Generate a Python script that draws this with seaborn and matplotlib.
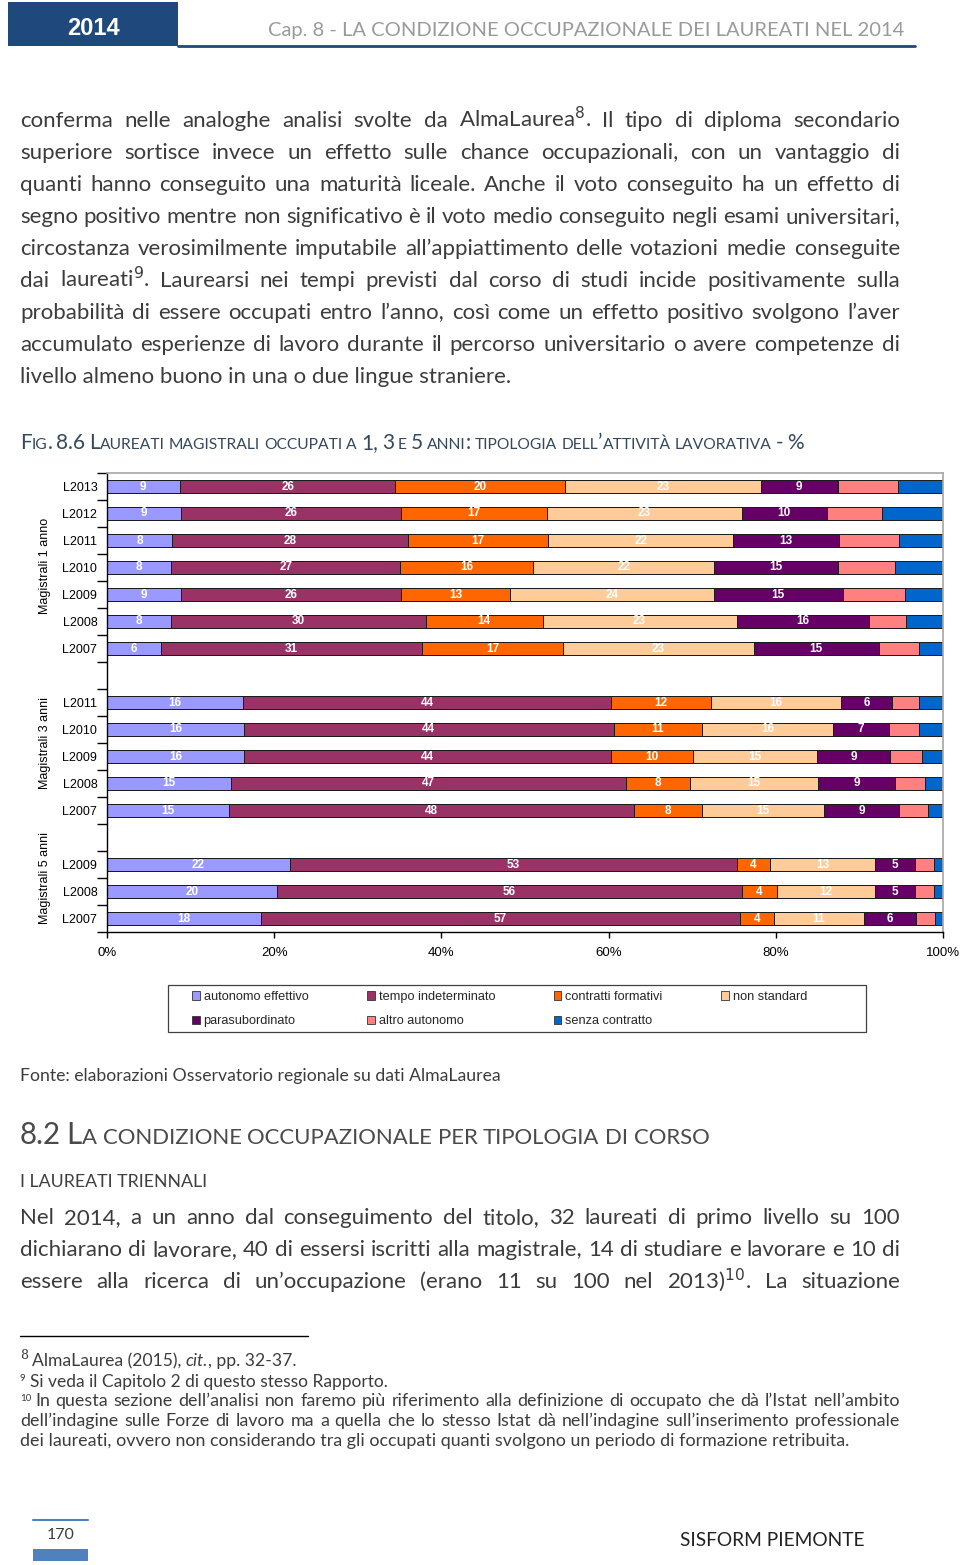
import matplotlib
matplotlib.use('Agg')
import matplotlib.pyplot as plt
from matplotlib.patches import Patch, Rectangle
from matplotlib.lines import Line2D
import seaborn as sns
import pandas as pd
import numpy as np

# Dati del grafico (percentuali)
categorie = ['autonomo effettivo', 'tempo indeterminato', 'contratti formativi',
             'non standard', 'parasubordinato', 'altro autonomo', 'senza contratto']
colori = ['#9999FF', '#993366', '#FF6600', '#FFCC99', '#660066', '#FF8080', '#0066CC']

gruppi = ['Magistrali 1 anno', 'Magistrali 3 anni', 'Magistrali 5 anni']
coorti_1_anno = ['L2013', 'L2012', 'L2011', 'L2010', 'L2009', 'L2008', 'L2007']
coorti_3_anni = ['L2011', 'L2010', 'L2009', 'L2008', 'L2007']
coorti_5_anni = ['L2009', 'L2008', 'L2007']

# valori per categoria: 7 righe a 1 anno, 5 a 3 anni, 3 a 5 anni
autonomo_effettivo = [8.7, 8.8, 7.8, 7.7, 8.8, 7.7, 6.4, 16.3, 16.4, 16.4, 14.8, 14.6, 21.9, 20.3, 18.4]
tempo_indeterminato = [25.8, 26.4, 28.2, 27.4, 26.4, 30.4, 31.3, 44.0, 44.2, 43.9, 47.3, 48.4, 53.4, 55.7, 57.3]
contratti_formativi = [20.3, 17.4, 16.8, 15.9, 13.0, 14.0, 16.8, 11.9, 10.6, 9.8, 7.6, 8.2, 4.0, 4.1, 4.1]
non_standard = [23.4, 23.3, 22.1, 21.6, 24.4, 23.2, 22.9, 15.6, 15.6, 14.8, 15.4, 14.6, 12.6, 11.8, 10.7]
parasubordinato = [9.2, 10.2, 12.6, 14.8, 15.4, 15.9, 14.9, 6.1, 6.8, 8.8, 9.2, 8.9, 4.7, 4.8, 6.3]
altro_autonomo = [7.2, 6.6, 7.2, 6.9, 7.4, 4.4, 4.8, 3.2, 3.5, 3.8, 3.6, 3.5, 2.3, 2.2, 2.2]
senza_contratto = [5.4, 7.3, 5.3, 5.7, 4.6, 4.4, 2.9, 2.9, 2.9, 2.5, 2.1, 1.8, 1.1, 1.1, 1.0]
serie = [autonomo_effettivo, tempo_indeterminato, contratti_formativi, non_standard,
         parasubordinato, altro_autonomo, senza_contratto]
n_etichettate = 5  # le ultime due categorie non hanno etichetta

# Testi della pagina
paragrafo_1 = [
    'conferma nelle analoghe analisi svolte da AlmaLaurea$^{8}$. Il tipo di diploma secondario',
    'superiore sortisce invece un effetto sulle chance occupazionali, con un vantaggio di',
    'quanti hanno conseguito una maturità liceale. Anche il voto conseguito ha un effetto di',
    'segno positivo mentre non significativo è il voto medio conseguito negli esami universitari,',
    'circostanza verosimilmente imputabile all’appiattimento delle votazioni medie conseguite',
    'dai laureati$^{9}$. Laurearsi nei tempi previsti dal corso di studi incide positivamente sulla',
    'probabilità di essere occupati entro l’anno, così come un effetto positivo svolgono l’aver',
    'accumulato esperienze di lavoro durante il percorso universitario o avere competenze di',
    'livello almeno buono in una o due lingue straniere.',
]
paragrafo_2 = [
    'Nel 2014, a un anno dal conseguimento del titolo, 32 laureati di primo livello su 100',
    'dichiarano di lavorare, 40 di essersi iscritti alla magistrale, 14 di studiare e lavorare e 10 di',
    'essere alla ricerca di un’occupazione (erano 11 su 100 nel 2013)$^{10}$. La situazione',
]
nota_10 = [
    'In questa sezione dell’analisi non faremo più riferimento alla definizione di occupato che dà l’Istat nell’ambito',
    'dell’indagine sulle Forze di lavoro ma a quella che lo stesso Istat dà nell’indagine sull’inserimento professionale',
    'dei laureati, ovvero non considerando tra gli occupati quanti svolgono un periodo di formazione retribuita.',
]

sns.set_theme(style='white')
plt.rcParams['font.family'] = ['Lato', 'DejaVu Sans']
plt.rcParams['mathtext.fontset'] = 'dejavusans'

W, H = 960, 1565
fig = plt.figure(figsize=(W / 100, H / 100), dpi=100)
fig.patch.set_facecolor('white')
renderer = fig.canvas.get_renderer()

GRIGIO = '#3c3c3c'
BLU = '#1F497D'
ARIAL = ['Liberation Sans', 'DejaVu Sans']
CORPO = 16


def fy(y):
    return 1 - y / H


def crea(x, base, s, **kw):
    return fig.text(x / W, fy(base), s, va='baseline', ha='left', **kw)


def larghezza(t):
    return t.get_window_extent(renderer).width


def spazio(**kw):
    a = crea(0, 0, 'a a', **kw)
    b = crea(0, 0, 'aa', **kw)
    d = larghezza(a) - larghezza(b)
    a.remove()
    b.remove()
    return d


def riga(testo, x0, base, x1=None, **kw):
    # riga giustificata tra x0 e x1
    if x1 is None:
        return crea(x0, base, testo, **kw)
    pezzi = [crea(x0, base, p, **kw) for p in testo.split()]
    larg = [larghezza(t) for t in pezzi]
    gap = (x1 - x0 - sum(larg)) / (len(pezzi) - 1)
    x = x0
    for t, l in zip(pezzi, larg):
        t.set_x(x / W)
        x += l + gap


def adatta(t, target):
    t.set_fontsize(t.get_fontsize() * target / larghezza(t))
    return t


def sequenza(runs, x0, base, x1=None):
    # runs: (testo, kw) oppure numero = spazio in px
    def posa(scala):
        x, pezzi = x0, []
        for r in runs:
            if isinstance(r, (int, float)):
                x += r * scala
                continue
            s, kw = r
            kw = dict(kw)
            kw['fontsize'] = kw['fontsize'] * scala
            t = crea(x, base, s, **kw)
            pezzi.append(t)
            x += larghezza(t)
        return pezzi, x
    pezzi, x = posa(1.0)
    if x1 is not None:
        for t in pezzi:
            t.remove()
        pezzi, x = posa((x1 - x0) / (x - x0))
    return pezzi


def maiuscoletto(testo, x0, base, grande, piccolo, x1=None, **kw):
    runs = []
    gap = spazio(fontsize=piccolo, **kw)
    for i, parola in enumerate(testo.split(' ')):
        if i:
            runs.append(gap)
        blocchi = []
        for ch in parola:
            pic = ch.islower()
            c = ch.upper() if pic else ch
            if blocchi and blocchi[-1][1] == pic:
                blocchi[-1][0] += c
            else:
                blocchi.append([c, pic])
        for s, pic in blocchi:
            runs.append((s, dict(kw, fontsize=piccolo if pic else grande)))
    return sequenza(runs, x0, base, x1)


def linea(x0, x1, y, **kw):
    fig.add_artist(Line2D([x0 / W, x1 / W], [fy(y), fy(y)], transform=fig.transFigure, **kw))


def rettangolo(x0, y0, x1, y1, **kw):
    fig.add_artist(Rectangle((x0 / W, fy(y1)), (x1 - x0) / W, (y1 - y0) / H,
                             transform=fig.transFigure, **kw))


# Intestazione
rettangolo(8, 2, 178, 46, color=BLU, lw=0)
linea(178, 915, 46, color=BLU, lw=2)
fig.text(93 / W, fy(35), '2014', ha='center', va='baseline', color='white',
         fontsize=17, fontweight='bold', family=ARIAL)
adatta(crea(268, 36, 'Cap. 8 - LA CONDIZIONE OCCUPAZIONALE DEI LAUREATI NEL 2014',
            color='#9a9a9a', fontsize=16), 634)

# Primo paragrafo
for i, testo in enumerate(paragrafo_1):
    fine = 900 if i < len(paragrafo_1) - 1 else None
    riga(testo, 20, 127 + 32 * i, fine, color=GRIGIO, fontsize=CORPO)

# Didascalia
maiuscoletto('Fig. 8.6 Laureati magistrali occupati a 1, 3 e 5 anni: tipologia dell’attività lavorativa - %',
             20, 449, 14, 10.5, x1=810, color='#34495E')

# Grafico a barre in pila
chiavi, etichette = [], []
for g, coorti in zip(gruppi, [coorti_1_anno, coorti_3_anni, coorti_5_anni]):
    for c in coorti:
        chiavi.append(g + ' ' + c)
        etichette.append(c)
ordine = chiavi[:7] + ['vuoto 1'] + chiavi[7:12] + ['vuoto 2'] + chiavi[12:]
etichette_asse = etichette[:7] + [''] + etichette[7:12] + [''] + etichette[12:]

df = pd.DataFrame({'riga': chiavi})
for nome, valori in zip(categorie, serie):
    df[nome] = valori
cumulata = df[categorie].cumsum(axis=1)
cumulata['riga'] = df['riga']

ax = fig.add_axes([107 / W, fy(932), 836 / W, 459 / H])
for i in reversed(range(len(categorie))):
    sns.barplot(data=cumulata, x=categorie[i], y='riga', order=ordine, orient='h',
                color=colori[i], saturation=1, width=0.45, errorbar=None,
                edgecolor='#1a1a1a', linewidth=0.7, ax=ax)

for _, r in df.iterrows():
    y = ordine.index(r['riga'])
    sinistra = 0
    for j, nome in enumerate(categorie):
        v = r[nome]
        if j < n_etichettate:
            ax.text(sinistra + v / 2, y, f'{round(v):d}', ha='center', va='center',
                    color='white', fontsize=8.5, fontweight='bold', family=ARIAL)
        sinistra += v

ax.set_xlim(0, 100)
ax.set_ylim(len(ordine) - 0.5, -0.5)
ax.set_xlabel('')
ax.set_ylabel('')
ax.set_xticks(range(0, 101, 20))
ax.set_xticklabels([f'{v}%' for v in range(0, 101, 20)], family=ARIAL, fontsize=9.5)
ax.set_yticks(range(len(ordine)))
ax.set_yticklabels(etichette_asse, family=ARIAL, fontsize=9)
ax.set_yticks(np.arange(-0.5, len(ordine), 1), minor=True)
ax.tick_params(axis='y', which='major', length=0, pad=7, colors='black')
ax.tick_params(axis='y', which='minor', length=7, width=1, color='black', left=True)
ax.tick_params(axis='x', length=4, width=1, color='black', bottom=True, pad=7, colors='black')
for lato in ['left', 'bottom']:
    ax.spines[lato].set_color('black')
    ax.spines[lato].set_linewidth(1)
for lato in ['top', 'right']:
    ax.spines[lato].set_color('#a6a6a6')
    ax.spines[lato].set_linewidth(1.2)
ax.set_facecolor('white')

for g, yc in zip(gruppi, [566, 743, 878]):
    fig.text(45 / W, fy(yc), g, rotation=90, ha='center', va='center',
             fontsize=9, family=ARIAL, color='black')

# Legenda: cornice disegnata a parte, voci in quattro colonne
rettangolo(168, 985, 866, 1032, facecolor='white', edgecolor='#404040', lw=0.9)
maniglie = [Patch(facecolor=c, edgecolor='#333333', linewidth=0.6, label=n)
            for n, c in zip(categorie, colori)]
riordino = [0, 4, 1, 5, 2, 6, 3]
fig.legend(handles=[maniglie[k] for k in riordino], ncol=4, loc='upper left',
           bbox_to_anchor=(192 / W, fy(991)), borderaxespad=0, borderpad=0,
           frameon=False, handlelength=0.6, handleheight=0.6, handletextpad=0.3,
           labelspacing=0.95, columnspacing=4.6, prop={'family': ARIAL, 'size': 9.2})

# Fonte e sezione successiva
adatta(crea(20, 1081, 'Fonte: elaborazioni Osservatorio regionale su dati AlmaLaurea',
            color=GRIGIO, fontsize=11.5), 482)
maiuscoletto('8.2 La condizione occupazionale per tipologia di corso', 20, 1144, 18, 13.5,
             x1=713, color='#4a4a4a')
adatta(crea(20, 1187, 'I LAUREATI TRIENNALI', color='#404040', fontsize=12.5), 187)
for i, testo in enumerate(paragrafo_2):
    riga(testo, 20, 1224 + 32 * i, 900, color=GRIGIO, fontsize=CORPO)

# Note a piè di pagina
linea(20, 308, 1336, color='black', lw=1)
ultima = adatta(crea(20, 1446, nota_10[2], fontsize=11, color=GRIGIO), 828)
nota = ultima.get_fontsize()
crea(20, 1359, '8', fontsize=9, color=GRIGIO, family=['DejaVu Serif'])
sequenza([('AlmaLaurea (2015),', dict(fontsize=nota, color=GRIGIO)), 4,
          ('cit.', dict(fontsize=nota, color=GRIGIO, style='italic')),
          (', pp. 32-37.', dict(fontsize=nota, color=GRIGIO))], 32, 1366, x1=295)
crea(20, 1381, '9', fontsize=7, color=GRIGIO)
adatta(crea(30, 1387, 'Si veda il Capitolo 2 di questo stesso Rapporto.', fontsize=nota, color=GRIGIO), 360)
crea(20, 1401, '10', fontsize=7, color=GRIGIO)
riga(nota_10[0], 35, 1406, 900, fontsize=nota, color=GRIGIO)
riga(nota_10[1], 20, 1426, 900, fontsize=nota, color=GRIGIO)

# Piè di pagina
linea(33, 88, 1520, color='#4F81BD', lw=1.5)
fig.text(61 / W, fy(1539), '170', ha='center', va='baseline', fontsize=11.5, color=GRIGIO)
rettangolo(33, 1549, 88, 1561, color='#4F81BD', lw=0)
adatta(crea(680, 1546, 'SISFORM PIEMONTE', fontsize=14, color='#222222'), 185)

fig.savefig('out.png', dpi=100, facecolor='white')
